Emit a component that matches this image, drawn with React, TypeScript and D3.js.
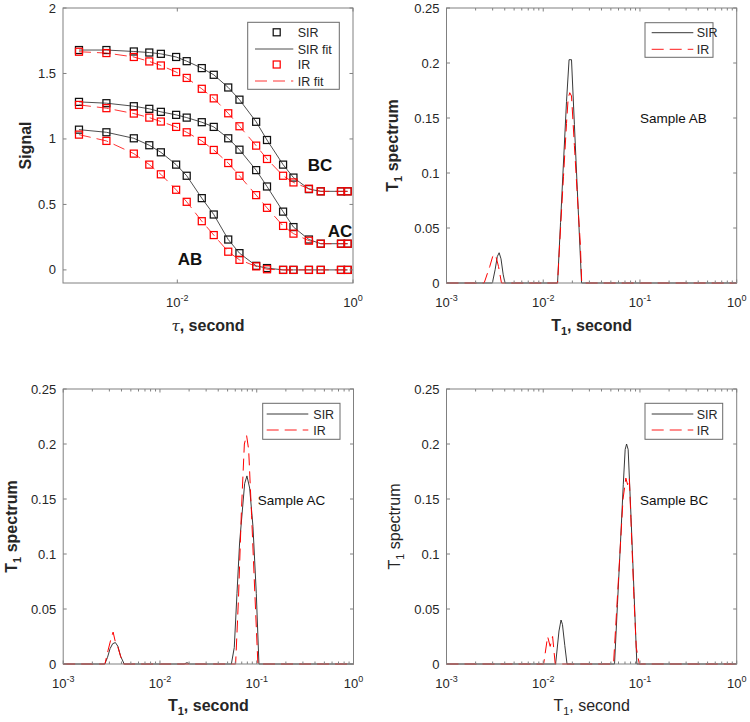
import React from 'react';
import * as d3 from 'd3';

// ---------- Data ----------
const tau = [0.00076, 0.00156, 0.0032, 0.0048, 0.0065, 0.0097, 0.0128, 0.019, 0.026, 0.038, 0.051, 0.079, 0.105, 0.16, 0.21, 0.315, 0.43, 0.73, 0.87];
const sirBC = [1.679, 1.679, 1.668, 1.66, 1.65, 1.626, 1.594, 1.541, 1.49, 1.393, 1.3, 1.131, 0.992, 0.804, 0.705, 0.617, 0.6, 0.6, 0.6];
const irBC = [1.666, 1.656, 1.626, 1.592, 1.561, 1.511, 1.466, 1.383, 1.31, 1.196, 1.097, 0.949, 0.847, 0.719, 0.668, 0.62, 0.6, 0.6, 0.6];
const sirAC = [1.283, 1.273, 1.25, 1.23, 1.207, 1.184, 1.163, 1.128, 1.092, 1.005, 0.918, 0.762, 0.637, 0.445, 0.327, 0.232, 0.2, 0.2, 0.2];
const irAC = [1.26, 1.235, 1.194, 1.163, 1.133, 1.092, 1.051, 0.985, 0.916, 0.816, 0.719, 0.571, 0.474, 0.336, 0.277, 0.223, 0.2, 0.2, 0.2];
const sirAB = [1.071, 1.051, 1.005, 0.952, 0.898, 0.804, 0.719, 0.548, 0.423, 0.232, 0.128, 0.031, 0.014, 0, 0, 0, 0, 0, 0];
const irAB = [1.033, 0.985, 0.888, 0.804, 0.73, 0.612, 0.52, 0.372, 0.266, 0.139, 0.077, 0.027, 0.005, 0, 0, 0, 0, 0, 0];

const signalTicks = [0, 0.5, 1, 1.5, 2];
const signalTickLabels = ['0', '0.5', '1', '1.5', '2'];
const tauTicks = [0.01, 1];
const tauTickExps = ['-2', '0'];
const t1Ticks = [0.001, 0.01, 0.1, 1];
const t1TickExps = ['-3', '-2', '-1', '0'];
const specTicks = [0, 0.05, 0.1, 0.15, 0.2, 0.25];
const specTickLabels = ['0', '0.05', '0.1', '0.15', '0.2', '0.25'];

type P = [number, number];
// Sample AB spectra [T1 (s), amplitude]
const abSIR: P[] = [[0.001, 0], [0.00298, 0], [0.00318, 0.012], [0.00335, 0.024], [0.0035, 0.0275], [0.00366, 0.022], [0.00385, 0.008], [0.00402, 0],
  [0.01406, 0], [0.0151, 0.055], [0.0162, 0.11], [0.0174, 0.165], [0.0185, 0.203], [0.0196, 0.203], [0.021, 0.144], [0.0225, 0.085], [0.0249, 0], [1, 0]];
const abIR: P[] = [[0.001, 0], [0.00245, 0], [0.0028, 0.015], [0.003, 0.024], [0.0032, 0.026], [0.00345, 0.015], [0.0037, 0],
  [0.01406, 0], [0.0151, 0.05], [0.0162, 0.097], [0.0174, 0.145], [0.0181, 0.168], [0.0188, 0.173], [0.0196, 0.17], [0.021, 0.125], [0.0225, 0.08], [0.0242, 0.035], [0.025, 0], [1, 0]];
// Sample AC spectra
const acSIR: P[] = [[0.001, 0], [0.00269, 0], [0.00287, 0.006], [0.00305, 0.014], [0.00325, 0.0185], [0.00346, 0.0195], [0.00368, 0.016], [0.00392, 0.007], [0.00427, 0],
  [0.0178, 0], [0.019, 0.0012], [0.0203, 0],
  [0.0547, 0], [0.0586, 0.015], [0.0625, 0.064], [0.0665, 0.11], [0.075, 0.164], [0.0792, 0.171], [0.0845, 0.16], [0.0914, 0.125], [0.099, 0.064], [0.1054, 0], [1, 0]];
const acIR: P[] = [[0.001, 0], [0.0027, 0], [0.0029, 0.012], [0.0031, 0.022], [0.00328, 0.029], [0.00346, 0.02], [0.00368, 0.015], [0.00392, 0.007], [0.0042, 0],
  [0.0605, 0], [0.0648, 0.06], [0.0695, 0.14], [0.0745, 0.2], [0.0785, 0.208], [0.0825, 0.195], [0.0885, 0.135], [0.095, 0.07], [0.1028, 0], [1, 0]];
// Sample BC spectra
const bcSIR: P[] = [[0.001, 0], [0.01343, 0], [0.01455, 0.03], [0.01528, 0.04], [0.0158, 0.036], [0.0167, 0.017], [0.01762, 0],
  [0.0546, 0], [0.0585, 0.054], [0.0627, 0.108], [0.0672, 0.163], [0.0703, 0.195], [0.0727, 0.2], [0.0755, 0.195], [0.0809, 0.133], [0.0867, 0.066], [0.0929, 0], [1, 0]];
const bcIR: P[] = [[0.001, 0], [0.0101, 0], [0.0111, 0.025], [0.0118, 0.016], [0.0125, 0.025], [0.0133, 0],
  [0.0533, 0], [0.0575, 0.05], [0.062, 0.1], [0.0668, 0.15], [0.0715, 0.169], [0.0745, 0.163], [0.0776, 0.169], [0.0809, 0.128], [0.0867, 0.06], [0.0915, 0.015], [0.0985, 0], [1, 0]];

// ---------- Styling ----------
const FONT = 'Liberation Sans, Arial, Helvetica, sans-serif';
const TXT = '#262626';
const AX = '#808080';
const RED = '#ff0000';
const DASH = '12,6';

type Box = { left: number; right: number; top: number; bottom: number };

function Axes({ b, xs, ys, xTicks, xExps, minor, yTicks, yLabels }: any) {
  const minors: number[] = [];
  if (minor) {
    [0.001, 0.01, 0.1].forEach((d) => { for (let k = 2; k <= 9; k++) minors.push(d * k); });
  }
  const tl = 3.5;
  return (
    <g fontFamily={FONT} fill={TXT}>
      <rect x={b.left} y={b.top} width={b.right - b.left} height={b.bottom - b.top} fill="none" stroke={AX} strokeWidth={1} />
      {xTicks.map((t: number, i: number) => (
        <g key={'xt' + i}>
          <line x1={xs(t)} x2={xs(t)} y1={b.bottom} y2={b.bottom - tl} stroke={AX} />
          <line x1={xs(t)} x2={xs(t)} y1={b.top} y2={b.top + tl} stroke={AX} />
          <text x={xs(t)} y={b.bottom + 24} textAnchor="middle" fontSize={13}>
            10<tspan dy={-6} fontSize={9}>{xExps[i]}</tspan>
          </text>
        </g>
      ))}
      {minors.map((t, i) => (
        <g key={'mt' + i}>
          <line x1={xs(t)} x2={xs(t)} y1={b.bottom} y2={b.bottom - 2.5} stroke={AX} />
          <line x1={xs(t)} x2={xs(t)} y1={b.top} y2={b.top + 2.5} stroke={AX} />
        </g>
      ))}
      {yTicks.map((v: number, i: number) => (
        <g key={'yt' + i}>
          <line x1={b.left} x2={b.left + tl} y1={ys(v)} y2={ys(v)} stroke={AX} />
          <line x1={b.right} x2={b.right - tl} y1={ys(v)} y2={ys(v)} stroke={AX} />
          <text x={b.left - 7} y={ys(v) + 4.5} textAnchor="end" fontSize={13}>{yLabels[i]}</text>
        </g>
      ))}
    </g>
  );
}

function T1Label({ x, y, rotate, bold, rest }: any) {
  return (
    <text transform={`translate(${x},${y})${rotate ? ' rotate(-90)' : ''}`} textAnchor="middle" fontFamily={FONT}
      fontSize={16} fontWeight={bold ? 'bold' : 'normal'} fill={TXT}>
      T<tspan dy={4} fontSize={11}>1</tspan><tspan dy={-4}>{rest}</tspan>
    </text>
  );
}

function SpecLegend({ x0, x1, y0, y1, lx0, lx1, tx, r1, r2 }: any) {
  return (
    <g fontFamily={FONT} fontSize={12.5} fill={TXT}>
      <rect x={x0} y={y0} width={x1 - x0} height={y1 - y0} fill="#fff" stroke="#6a6a6a" strokeWidth={1} />
      <line x1={lx0} x2={lx1} y1={r1} y2={r1} stroke="#222" strokeWidth={0.9} />
      <text x={tx} y={r1 + 4.5}>SIR</text>
      <line x1={lx0} x2={lx1} y1={r2} y2={r2} stroke={RED} strokeWidth={0.9} strokeDasharray={DASH} />
      <text x={tx} y={r2 + 4.5}>IR</text>
    </g>
  );
}

function SpecPanel({ b, sir, ir, sample, sx, sy, boldLabels, ylx, xly, legend }: any) {
  const xs = d3.scaleLog().domain([0.001, 1]).range([b.left, b.right]);
  const ys = d3.scaleLinear().domain([0, 0.25]).range([b.bottom, b.top]);
  const line = d3.line<P>().x((d) => xs(d[0])).y((d) => ys(d[1]));
  return (
    <g>
      <path d={line(sir) || ''} fill="none" stroke="#222" strokeWidth={0.9} />
      <path d={line(ir) || ''} fill="none" stroke={RED} strokeWidth={1} strokeDasharray={DASH} />
      <Axes b={b} xs={xs} ys={ys} xTicks={t1Ticks} xExps={t1TickExps} minor={true} yTicks={specTicks} yLabels={specTickLabels} />
      <SpecLegend {...legend} />
      <text x={sx} y={sy + 4.7} fontFamily={FONT} fontSize={13.5} fill="#111">{sample}</text>
      <T1Label x={ylx} y={(b.top + b.bottom) / 2} rotate bold={boldLabels} rest=" spectrum" />
      <T1Label x={(b.left + b.right) / 2} y={xly} bold={boldLabels} rest=", second" />
    </g>
  );
}

function SignalPanel() {
  const b: Box = { left: 63, right: 353, top: 8, bottom: 283 };
  const xs = d3.scaleLog().domain([0.0005, 1]).range([b.left, b.right]);
  const ys = d3.scaleLinear().domain([-0.1, 2]).range([b.bottom, b.top]);
  const line = d3.line<number>().x((_, i) => xs(tau[i])).y((d) => ys(d));
  const sirs = [sirAB, sirAC, sirBC];
  const irs = [irAB, irAC, irBC];
  const sq = 7;
  const marks = (arr: number[], color: string, key: string) =>
    arr.map((v, i) => (
      <rect key={key + i} x={xs(tau[i]) - sq / 2} y={ys(v) - sq / 2} width={sq} height={sq} fill="none" stroke={color} strokeWidth={1.25} />
    ));
  return (
    <g>
      {sirs.map((s, k) => (
        <g key={'s' + k}>
          {marks(s, '#111', 's' + k)}
          <path d={line(s) || ''} fill="none" stroke="#222" strokeWidth={0.8} />
        </g>
      ))}
      {irs.map((s, k) => (
        <g key={'r' + k}>
          {marks(s, RED, 'r' + k)}
          <path d={line(s) || ''} fill="none" stroke={RED} strokeWidth={0.8} strokeDasharray={DASH} />
        </g>
      ))}
      <Axes b={b} xs={xs} ys={ys} xTicks={tauTicks} xExps={tauTickExps} minor={false} yTicks={signalTicks} yLabels={signalTickLabels} />
      <g fontFamily={FONT} fontSize={17} fontWeight="bold" fill="#111" textAnchor="middle">
        <text x={320} y={171}>BC</text>
        <text x={340} y={237}>AC</text>
        <text x={190} y={265}>AB</text>
      </g>
      {/* legend */}
      <g fontFamily={FONT} fontSize={12.5} fill={TXT}>
        <rect x={247.7} y={22.3} width={91.6} height={67} fill="#fff" stroke="#6a6a6a" strokeWidth={1} />
        <rect x={276.7 - sq / 2} y={32.3 - sq / 2} width={sq} height={sq} fill="none" stroke="#111" strokeWidth={1.25} />
        <text x={297.7} y={36.8}>SIR</text>
        <line x1={255} x2={293.3} y1={49} y2={49} stroke="#222" strokeWidth={0.8} />
        <text x={297.7} y={53.5}>SIR fit</text>
        <rect x={276.7 - sq / 2} y={64.5 - sq / 2} width={sq} height={sq} fill="none" stroke={RED} strokeWidth={1.25} />
        <text x={297.7} y={69}>IR</text>
        <line x1={255} x2={293.3} y1={81} y2={81} stroke={RED} strokeWidth={0.8} strokeDasharray={DASH} />
        <text x={297.7} y={85.5}>IR fit</text>
      </g>
      <text transform="translate(31,145.5) rotate(-90)" textAnchor="middle" fontFamily={FONT} fontSize={16} fontWeight="bold" fill={TXT}>Signal</text>
      <text x={208} y={330.7} textAnchor="middle" fontFamily={FONT} fontSize={16} fill={TXT}>
        <tspan fontStyle="italic" fontFamily="DejaVu Serif, serif" fontSize={15}>τ</tspan><tspan fontWeight="bold">, second</tspan>
      </text>
    </g>
  );
}

export default function App() {
  const tr: Box = { left: 446.5, right: 736.7, top: 8, bottom: 283 };
  const bl: Box = { left: 63.2, right: 353.5, top: 389, bottom: 664 };
  const br: Box = { left: 446.5, right: 736.7, top: 389, bottom: 664 };
  return (
    <svg width={750} height={722} style={{ position: 'absolute', left: 0, top: 0, background: '#fff' }}>
      <rect width={750} height={722} fill="#fff" />
      <SignalPanel />
      <SpecPanel b={tr} sir={abSIR} ir={abIR} sample="Sample AB" sx={640} sy={118} boldLabels ylx={398} xly={330.7}
        legend={{ x0: 645, x1: 713, y0: 22.7, y1: 57.3, lx0: 651.7, lx1: 693.3, tx: 696.7, r1: 32.7, r2: 49.3 }} />
      <SpecPanel b={bl} sir={acSIR} ir={acIR} sample="Sample AC" sx={257.7} sy={500} boldLabels ylx={17} xly={710.5}
        legend={{ x0: 262.7, x1: 340, y0: 403.3, y1: 439.3, lx0: 266.7, lx1: 308.3, tx: 313.3, r1: 414, r2: 430 }} />
      <SpecPanel b={br} sir={bcSIR} ir={bcIR} sample="Sample BC" sx={640} sy={500} boldLabels={false} ylx={399.5} xly={710.5}
        legend={{ x0: 645, x1: 722.7, y0: 403.3, y1: 439.3, lx0: 651.7, lx1: 693.3, tx: 696.7, r1: 414, r2: 430 }} />
    </svg>
  );
}
